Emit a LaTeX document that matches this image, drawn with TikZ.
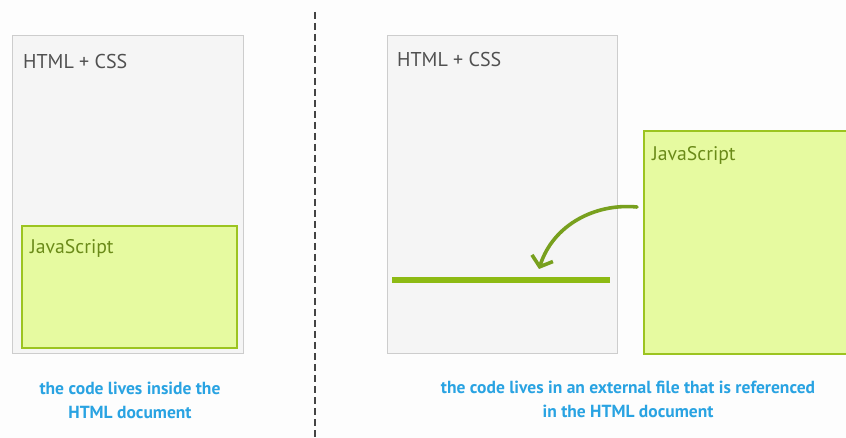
\documentclass[tikz,border=0pt]{standalone}
\usepackage{fontspec}
\setmainfont{PT Sans}
\usetikzlibrary{arrows.meta}
\definecolor{pagebg}{HTML}{FDFDFD}
\definecolor{docfill}{HTML}{F5F5F5}
\definecolor{docline}{HTML}{CDCDCD}
\definecolor{docText}{HTML}{505050}
\definecolor{jsfill}{HTML}{E6FAA0}
\definecolor{jsline}{HTML}{9CC420}
\definecolor{jsText}{HTML}{6A8A18}
\definecolor{barcol}{HTML}{8DBA14}
\definecolor{arrowcol}{HTML}{78A01E}
\definecolor{capcol}{HTML}{29A3E2}
\definecolor{sepcol}{HTML}{444444}
\tikzset{
  docbox/.style={draw=docline, fill=docfill, line width=1.3pt, rectangle, inner sep=0pt, anchor=north west},
  jsbox/.style={draw=jsline, fill=jsfill, line width=1.6pt, rectangle, inner sep=0pt, anchor=north west},
  doclabel/.style={anchor=west, inner sep=0pt, text=docText, font=\fontsize{20}{23}\selectfont},
  jslabel/.style={anchor=west, inner sep=0pt, text=jsText, font=\fontsize{19.7}{23}\selectfont},
  caption/.style={inner sep=0pt, align=center, text=capcol, font=\bfseries\fontsize{17.5}{24}\selectfont},
}
\begin{document}
\begin{tikzpicture}[x=1pt,y=-1pt]
  \useasboundingbox (0,0) rectangle (846,438);
  \fill[pagebg] (0,0) rectangle (846,438);
  \clip (0,0) rectangle (846,438);

  % separator between the two cases
  \coordinate (septop) at (315,12);
  \coordinate (sepbot) at (315,440);
  \draw[sepcol, line width=2.4pt, dash pattern=on 7pt off 4pt] (septop) -- (sepbot);

  % left: script embedded in the page
  \node[docbox, minimum width=231pt, minimum height=318pt] (docA) at (12,35) {};
  \node[doclabel] (docAlabel) at (23,62) {HTML + CSS};
  \node[jsbox, minimum width=215pt, minimum height=122pt] (jsA) at (21,225) {};
  \node[jslabel] (jsAlabel) at (30,248) {JavaScript};
  \node[caption] (capA) at (130,400) {the code lives inside the\\HTML document};

  % right: script in an external file
  \node[docbox, minimum width=230pt, minimum height=318pt] (docB) at (387,35) {};
  \node[doclabel] (docBlabel) at (397,60) {HTML + CSS};
  \node[jsbox, minimum width=230pt, minimum height=223pt] (jsB) at (643,130) {};
  \node[jslabel] (jsBlabel) at (652,155) {JavaScript};
  \coordinate (barL) at (392,280);
  \coordinate (barR) at (610,280);
  \draw[barcol, line width=6pt] (barL) -- (barR);
  \coordinate (arrStart) at (637,207);
  \coordinate (arrEnd) at (539,269);
  \draw[arrowcol, line width=3.6pt, line cap=round,
        -{Straight Barb[length=9pt, width=22pt, line width=3.6pt]}]
    (arrStart) .. controls (595,203) and (553,225) .. (arrEnd);
  \node[caption] (capB) at (628,399) {the code lives in an external file that is referenced\\in the HTML document};
\end{tikzpicture}
\end{document}
